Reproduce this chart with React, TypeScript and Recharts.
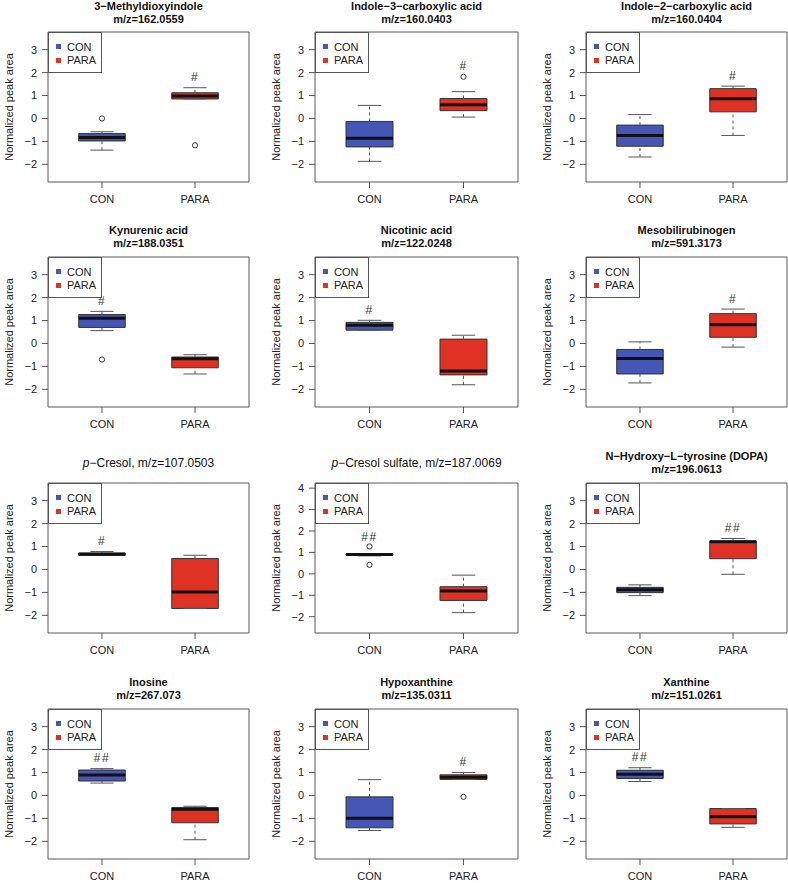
import React from "react"
import { ComposedChart, XAxis, YAxis, ReferenceArea, ReferenceLine, Scatter } from "recharts"

// metabolites, one panel each (row by row)
const metabolites = [
  "3−Methyldioxyindole",
  "Indole−3−carboxylic acid",
  "Indole−2−carboxylic acid",
  "Kynurenic acid",
  "Nicotinic acid",
  "Mesobilirubinogen",
  "p−Cresol",
  "p−Cresol sulfate",
  "N−Hydroxy−L−tyrosine (DOPA)",
  "Inosine",
  "Hypoxanthine",
  "Xanthine",
]
const mzValues = [
  "162.0559", "160.0403", "160.0404", "188.0351", "122.0248", "591.3173",
  "107.0503", "187.0069", "196.0613", "267.073", "135.0311", "151.0261",
]
const groups = ["CON", "PARA"]

// [lower whisker, Q1, median, Q3, upper whisker]
const conStats = [
  [-1.38, -0.98, -0.83, -0.66, -0.58],
  [-1.87, -1.24, -0.86, -0.13, 0.57],
  [-1.68, -1.21, -0.74, -0.29, 0.17],
  [0.56, 0.7, 1.1, 1.26, 1.4],
  [0.58, 0.58, 0.79, 0.92, 1.01],
  [-1.72, -1.33, -0.66, -0.26, 0.07],
  [0.62, 0.62, 0.66, 0.72, 0.78],
  [0.84, 0.86, 0.9, 0.93, 0.95],
  [-1.14, -1.01, -0.88, -0.78, -0.67],
  [0.54, 0.63, 0.89, 1.11, 1.17],
  [-1.53, -1.41, -0.99, -0.06, 0.69],
  [0.61, 0.74, 0.93, 1.1, 1.21],
]
const paraStats = [
  [0.85, 0.85, 0.98, 1.12, 1.34],
  [0.06, 0.34, 0.6, 0.87, 1.17],
  [-0.74, 0.29, 0.86, 1.3, 1.41],
  [-1.33, -1.06, -0.67, -0.59, -0.49],
  [-1.8, -1.37, -1.2, 0.19, 0.36],
  [-0.16, 0.27, 0.82, 1.3, 1.5],
  [-1.7, -1.7, -0.98, 0.48, 0.62],
  [-1.81, -1.24, -0.8, -0.6, -0.06],
  [-0.21, 0.47, 1.21, 1.24, 1.35],
  [-1.93, -1.19, -0.6, -0.53, -0.47],
  [0.7, 0.7, 0.79, 0.9, 1.0],
  [-1.39, -1.24, -0.93, -0.57, -0.57],
]
const conOutliers = [[0.0], [], [], [-0.7], [], [], [], [1.28, 0.42], [], [], [], []]
const paraOutliers = [[-1.17], [1.82], [], [], [], [], [], [], [], [], [-0.06], []]

// which group carries the significance mark, and the mark
const sigGroup = [1, 1, 1, 0, 0, 1, 0, 0, 1, 0, 1, 0]
const sigMarks = ["#", "#", "#", "#", "#", "#", "#", "##", "##", "##", "#", "##"]

const yDomains = [
  [-2.77, 3.77], [-2.77, 3.77], [-2.77, 3.77],
  [-2.77, 3.77], [-2.77, 3.77], [-2.77, 3.77],
  [-2.77, 3.77], [-2.76, 4.24], [-2.77, 3.77],
  [-2.77, 3.77], [-2.77, 3.77], [-2.77, 3.77],
]

const colors = ["#4656b4", "#e03224"]
const FONT = '"Liberation Sans", Arial, Helvetica, sans-serif'
const X_DOMAIN = [0.42, 2.58]
const BOX_HALF = 0.25
const CAP_HALF = 0.125

const colLeft = [48, 315, 586]
const colWidth = [201, 203, 201]
const rowTop = [32, 257, 483, 709]
const PLOT_H = 150

function fmt(v: number) {
  return String(v).replace("-", "\u2212")
}

function Panel({ i }: { i: number }) {
  const col = i % 3
  const row = Math.floor(i / 3)
  const left = colLeft[col]
  const top = rowTop[row]
  const w = colWidth[col]
  const [yMin, yMax] = yDomains[i]
  const ticks: number[] = []
  for (let t = Math.ceil(yMin); t <= Math.floor(yMax); t++) ticks.push(t)

  const stats = [conStats[i], paraStats[i]]
  const outs = [conOutliers[i], paraOutliers[i]]
  const outlierPts = outs.flatMap((arr, gi) => arr.map((y) => ({ x: gi + 1, y })))
  const sg = sigGroup[i]
  const sigTop = Math.max(stats[sg][4], ...outs[sg])
  const sigPts = [{ x: sg + 1, y: sigTop + 0.45, label: sigMarks[i] }]

  const oneLine = i === 6 || i === 7

  return (
    <>
      <div style={{ position: "absolute", left: left - 48, top: top - 32 }}>
        <ComposedChart width={48 + w + 2} height={32 + PLOT_H + 30} margin={{ top: 32, right: 2, bottom: 0, left: 8 }}>
          <XAxis
            type="number"
            dataKey="x"
            domain={X_DOMAIN}
            ticks={[1, 2]}
            allowDataOverflow
            interval={0}
            tickFormatter={(v: number) => groups[v - 1]}
            axisLine={false}
            tickSize={6}
            tickMargin={7}
            height={30}
            tick={{ fill: "#222", fontSize: 11, fontFamily: FONT }}
            tickLine={{ stroke: "#555" }}
          />
          <YAxis
            type="number"
            dataKey="y"
            domain={[yMin, yMax]}
            ticks={ticks}
            allowDataOverflow
            interval={0}
            width={40}
            axisLine={false}
            tickSize={6}
            tickMargin={5}
            tickFormatter={fmt}
            tick={{ fill: "#222", fontSize: 11, fontFamily: FONT }}
            tickLine={{ stroke: "#555" }}
          />
          <ReferenceArea x1={X_DOMAIN[0]} x2={X_DOMAIN[1]} y1={yMin} y2={yMax} fill="none" stroke="#595959" ifOverflow="visible" />
          {groups.map((g, gi) => {
            const [lo, q1, med, q3, hi] = stats[gi]
            const x = gi + 1
            return (
              <React.Fragment key={g}>
                {hi > q3 && (
                  <ReferenceLine segment={[{ x, y: q3 }, { x, y: hi }]} stroke="#555" strokeDasharray="3 3" ifOverflow="visible" />
                )}
                {q1 > lo && (
                  <ReferenceLine segment={[{ x, y: lo }, { x, y: q1 }]} stroke="#555" strokeDasharray="3 3" ifOverflow="visible" />
                )}
                <ReferenceLine segment={[{ x: x - CAP_HALF, y: hi }, { x: x + CAP_HALF, y: hi }]} stroke="#555" ifOverflow="visible" />
                <ReferenceLine segment={[{ x: x - CAP_HALF, y: lo }, { x: x + CAP_HALF, y: lo }]} stroke="#555" ifOverflow="visible" />
                <ReferenceArea x1={x - BOX_HALF} x2={x + BOX_HALF} y1={q1} y2={q3} fill={colors[gi]} fillOpacity={1} stroke="#333" ifOverflow="visible" />
                <ReferenceLine segment={[{ x: x - BOX_HALF, y: med }, { x: x + BOX_HALF, y: med }]} stroke="#111" strokeWidth={3} ifOverflow="visible" />
              </React.Fragment>
            )
          })}
          <Scatter
            data={outlierPts}
            isAnimationActive={false}
            shape={(p: any) => <circle cx={p.cx} cy={p.cy} r={2.6} fill="none" stroke="#333" strokeWidth={1} />}
          />
          <Scatter
            data={sigPts}
            isAnimationActive={false}
            shape={(p: any) => (
              <text x={p.cx} y={p.cy} textAnchor="middle" dominantBaseline="central" fontSize={12} fontFamily={FONT} fill="#333" letterSpacing={1.5}>
                {p.payload.label}
              </text>
            )}
          />
        </ComposedChart>
      </div>

      {/* title */}
      {oneLine ? (
        <div style={{ position: "absolute", left: left + w / 2, top: top - 27, transform: "translateX(-50%)", whiteSpace: "nowrap", fontFamily: FONT, fontSize: 12, lineHeight: "14px", color: "#111" }}>
          <i>p</i>
          {metabolites[i].slice(1)}, m/z={mzValues[i]}
        </div>
      ) : (
        <div style={{ position: "absolute", left: left + w / 2, top: Math.max(0, top - 33), transform: "translateX(-50%)", whiteSpace: "nowrap", textAlign: "center", fontFamily: FONT, fontSize: 11, fontWeight: "bold", lineHeight: "13px", color: "#111" }}>
          <div>{metabolites[i]}</div>
          <div>m/z={mzValues[i]}</div>
        </div>
      )}

      {/* y label */}
      <div style={{ position: "absolute", left: left - 39, top: top + PLOT_H / 2, transform: "translate(-50%, -50%) rotate(-90deg)", whiteSpace: "nowrap", fontFamily: FONT, fontSize: 11, color: "#222" }}>
        Normalized peak area
      </div>

      {/* legend */}
      <div style={{ position: "absolute", left, top, width: 54, height: 41, boxSizing: "border-box", border: "1px solid #555", background: "#fff", fontFamily: FONT, fontSize: 11, color: "#222" }}>
        {groups.map((g, gi) => (
          <div key={g} style={{ position: "absolute", left: 0, top: gi === 0 ? 7 : 20.5, height: 13, display: "flex", alignItems: "center" }}>
            <span style={{ display: "inline-block", width: 5, height: 5, background: colors[gi], marginLeft: 7, marginRight: 6 }} />
            <span>{g}</span>
          </div>
        ))}
      </div>
    </>
  )
}

export default function App() {
  return (
    <div style={{ position: "absolute", left: 0, top: 0, width: 788, height: 883, background: "#fff", overflow: "hidden" }}>
      {metabolites.map((m, i) => (
        <Panel key={m} i={i} />
      ))}
    </div>
  )
}
